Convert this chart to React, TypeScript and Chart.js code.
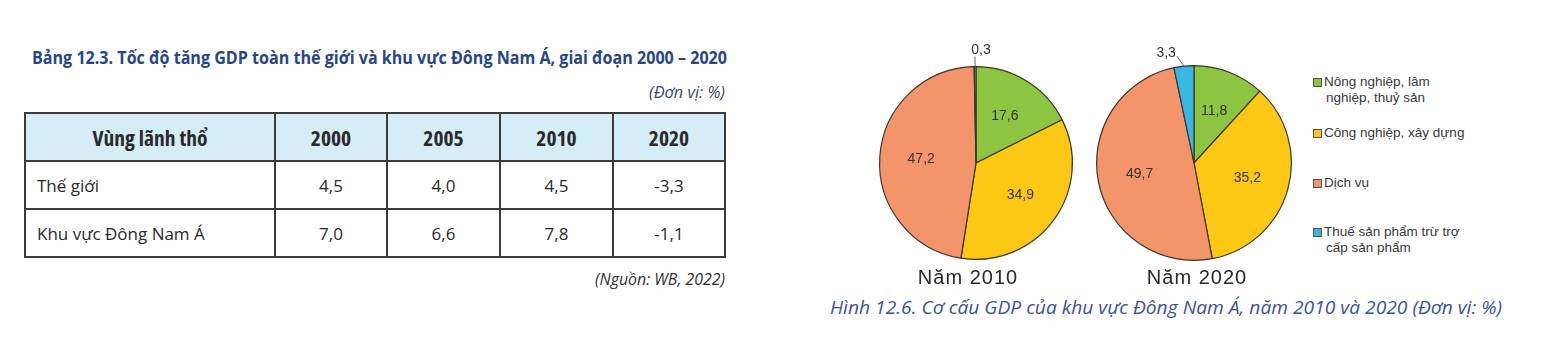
import React, { useEffect, useLayoutEffect, useRef } from "react";
import { Chart, registerables } from "chart.js";

Chart.register(...registerables);

// ---------- Data ----------
const tableTitle =
  "Bảng 12.3. Tốc độ tăng GDP toàn thế giới và khu vực Đông Nam Á, giai đoạn 2000 – 2020";
const tableUnit = "(Đơn vị: %)";
const tableSource = "(Nguồn: WB, 2022)";
const tableHeaderLabel = "Vùng lãnh thổ";
const tableYears = ["2000", "2005", "2010", "2020"];
const regionNames = ["Thế giới", "Khu vực Đông Nam Á"];
const worldGrowth = [4.5, 4.0, 4.5, -3.3];
const seaGrowth = [7.0, 6.6, 7.8, -1.1];

const sectorNames = [
  "Nông nghiệp, lâm nghiệp, thuỷ sản",
  "Công nghiệp, xây dựng",
  "Dịch vụ",
  "Thuế sản phẩm trừ trợ cấp sản phẩm",
];
const legendLines = [
  ["Nông nghiệp, lâm", "nghiệp, thuỷ sản"],
  ["Công nghiệp, xây dựng"],
  ["Dịch vụ"],
  ["Thuế sản phẩm trừ trợ", "cấp sản phẩm"],
];
const sectorColors = ["#8cc540", "#fcc814", "#f3946a", "#38b6e6"];
const pieYears = ["Năm 2010", "Năm 2020"];
const gdp2010 = [17.6, 34.9, 47.2, 0.3];
const gdp2020 = [11.8, 35.2, 49.7, 3.3];
const figureCaption =
  "Hình 12.6. Cơ cấu GDP của khu vực Đông Nam Á, năm 2010 và 2020 (Đơn vị: %)";

const fmt = (v: number) => v.toFixed(1).replace(".", ",");

const TITLE_BLUE = "#27468a";
const CAPTION_BLUE = "#3a52a0";
const SANS = "'Open Sans', 'Noto Sans', sans-serif";

// ---------- Pie label plugin ----------
const pieLabels = {
  id: "pieLabels",
  afterDatasetsDraw(chart: any) {
    const ctx = chart.ctx;
    const meta = chart.getDatasetMeta(0);
    const data = chart.data.datasets[0].data as number[];
    ctx.save();
    ctx.font = "14px 'Liberation Sans', Arial, sans-serif";
    ctx.fillStyle = "#333333";
    ctx.strokeStyle = "#666666";
    ctx.lineWidth = 1;
    meta.data.forEach((arc: any, i: number) => {
      const p = arc.getProps(["x", "y", "startAngle", "endAngle", "outerRadius"], true);
      const mid = (p.startAngle + p.endAngle) / 2;
      const v = data[i];
      const label = fmt(v);
      if (v >= 5) {
        const r = p.outerRadius * 0.57;
        ctx.textAlign = "center";
        ctx.textBaseline = "middle";
        ctx.fillText(label, p.x + Math.cos(mid) * r, p.y + Math.sin(mid) * r);
      } else {
        const x1 = p.x + Math.cos(mid) * p.outerRadius;
        const y1 = p.y + Math.sin(mid) * p.outerRadius;
        let x2 = p.x + Math.cos(mid) * (p.outerRadius + 10);
        let y2 = p.y + Math.sin(mid) * (p.outerRadius + 10);
        const leftward = Math.cos(mid) < -0.05;
        if (leftward) x2 -= 6;
        ctx.beginPath();
        ctx.moveTo(x1, y1);
        ctx.lineTo(x2, y2);
        ctx.stroke();
        if (leftward) {
          ctx.textAlign = "right";
          ctx.textBaseline = "middle";
          ctx.fillText(label, x2 - 1, y2 - 3);
        } else {
          ctx.textAlign = "center";
          ctx.textBaseline = "bottom";
          ctx.fillText(label, x2 + 6, y2 + 1);
        }
      }
    });
    ctx.restore();
  },
};

function Pie({
  values,
  left,
  top,
  width,
  height,
  padX,
  padY,
}: {
  values: number[];
  left: number;
  top: number;
  width: number;
  height: number;
  padX: number;
  padY: number;
}) {
  const ref = useRef<HTMLCanvasElement | null>(null);
  useEffect(() => {
    if (!ref.current) return;
    const chart = new Chart(ref.current, {
      type: "pie",
      data: {
        labels: sectorNames,
        datasets: [
          {
            data: values,
            backgroundColor: sectorColors,
            borderColor: "#3d3628",
            borderWidth: 1.2,
          },
        ],
      },
      options: {
        responsive: false,
        animation: false,
        layout: { padding: { left: padX, right: padX, top: padY, bottom: padY } },
        plugins: { legend: { display: false }, tooltip: { enabled: false } },
      },
      plugins: [pieLabels],
    });
    return () => chart.destroy();
  }, [values]);
  return (
    <canvas
      ref={ref}
      width={width}
      height={height}
      style={{ position: "absolute", left, top, width, height }}
    />
  );
}

// Text stretched horizontally to a given width (to imitate the book's semi-condensed face)
function FitText({
  text,
  left,
  centerY,
  width,
  lineHeight,
  style,
}: {
  text: string;
  left: number;
  centerY: number;
  width: number;
  lineHeight: number;
  style: React.CSSProperties;
}) {
  const ref = useRef<HTMLSpanElement | null>(null);
  useLayoutEffect(() => {
    const fit = () => {
      const el = ref.current;
      if (!el) return;
      el.style.transform = "none";
      const w = el.getBoundingClientRect().width;
      if (w > 0) el.style.transform = `scaleX(${width / w})`;
    };
    fit();
    (document as any).fonts?.ready?.then(fit);
  }, [text, width]);
  return (
    <span
      ref={ref}
      style={{
        position: "absolute",
        left,
        top: centerY - lineHeight / 2,
        lineHeight: `${lineHeight}px`,
        whiteSpace: "nowrap",
        transformOrigin: "left center",
        ...style,
      }}
    >
      {text}
    </span>
  );
}

const abs = (left: number, top: number, extra: React.CSSProperties = {}): React.CSSProperties => ({
  position: "absolute",
  left,
  top,
  ...extra,
});

export default function App() {
  const colW = [250, 112, 113, 113, 112];
  const cellBorder = "2px solid #3c3c3c";
  const rows = [worldGrowth, seaGrowth];
  const headCell: React.CSSProperties = {
    border: cellBorder,
    fontWeight: 700,
    padding: 0,
    fontStretch: "75%",
    fontSize: 21.5,
  };
  return (
    <div
      style={{
        position: "fixed",
        left: 0,
        top: 0,
        width: 1561,
        height: 352,
        background: "#ffffff",
        overflow: "hidden",
      }}
    >
      {/* Table title */}
      <FitText
        text={tableTitle}
        left={32}
        centerY={57}
        width={695}
        lineHeight={24}
        style={{ fontFamily: SANS, fontWeight: 700, fontSize: 17.5, color: TITLE_BLUE }}
      />
      <FitText
        text={tableUnit}
        left={649}
        centerY={92}
        width={76}
        lineHeight={22}
        style={{ fontFamily: SANS, fontStyle: "italic", fontSize: 16, color: "#3d4670" }}
      />
      <table
        style={abs(24, 112, {
          borderCollapse: "collapse",
          fontFamily: SANS,
          fontSize: 17,
          color: "#2a2a2a",
          tableLayout: "fixed",
          width: 700,
        })}
      >
        <colgroup>
          {colW.map((w, i) => (
            <col key={i} style={{ width: w }} />
          ))}
        </colgroup>
        <thead>
          <tr style={{ height: 48, background: "#d5edf7" }}>
            <th style={headCell}>{tableHeaderLabel}</th>
            {tableYears.map((y) => (
              <th key={y} style={headCell}>
                {y}
              </th>
            ))}
          </tr>
        </thead>
        <tbody>
          {rows.map((r, ri) => (
            <tr key={ri} style={{ height: 48 }}>
              <td style={{ border: cellBorder, padding: "0 0 0 11px", textAlign: "left" }}>
                {regionNames[ri]}
              </td>
              {r.map((v, vi) => (
                <td key={vi} style={{ border: cellBorder, padding: 0, textAlign: "center" }}>
                  {fmt(v)}
                </td>
              ))}
            </tr>
          ))}
        </tbody>
      </table>
      <FitText
        text={tableSource}
        left={595}
        centerY={279}
        width={130}
        lineHeight={22}
        style={{ fontFamily: SANS, fontStyle: "italic", fontSize: 16, color: "#333" }}
      />

      {/* Pie charts */}
      <Pie values={gdp2010} left={861} top={38} width={230} height={250} padX={18} padY={28} />
      <Pie values={gdp2020} left={1079} top={38} width={230} height={250} padX={17} padY={27} />

      {pieYears.map((y, i) => (
        <div
          key={y}
          style={abs(i === 0 ? 888 : 1117, 264, {
            width: 160,
            textAlign: "center",
            fontFamily: "'Liberation Sans', Arial, sans-serif",
            fontSize: 20,
            letterSpacing: 1,
            color: "#2a2a2a",
            lineHeight: "26px",
          })}
        >
          {y}
        </div>
      ))}

      {/* Legend */}
      <div style={abs(1313, 74, { fontFamily: "'Liberation Sans', Arial, sans-serif", fontSize: 13.5, color: "#3a3a3a" })}>
        {legendLines.map((lines, i) => {
          const tops = [0, 51, 101, 150];
          return (
            <div key={i} style={abs(0, tops[i], { whiteSpace: "nowrap", lineHeight: "16px" })}>
              <span
                style={{
                  position: "absolute",
                  left: 0,
                  top: 4,
                  width: 7,
                  height: 7,
                  background: sectorColors[i],
                  border: "1px solid #555",
                }}
                title={sectorNames[i]}
              />
              <div style={{ marginLeft: 11 }}>
                {lines.map((l, j) => (
                  <div key={j} style={{ paddingLeft: j > 0 ? 2 : 0 }}>
                    {l}
                  </div>
                ))}
              </div>
            </div>
          );
        })}
      </div>

      {/* Caption */}
      <FitText
        text={figureCaption}
        left={830}
        centerY={307}
        width={672}
        lineHeight={24}
        style={{ fontFamily: SANS, fontStyle: "italic", fontSize: 19, color: CAPTION_BLUE }}
      />
    </div>
  );
}
